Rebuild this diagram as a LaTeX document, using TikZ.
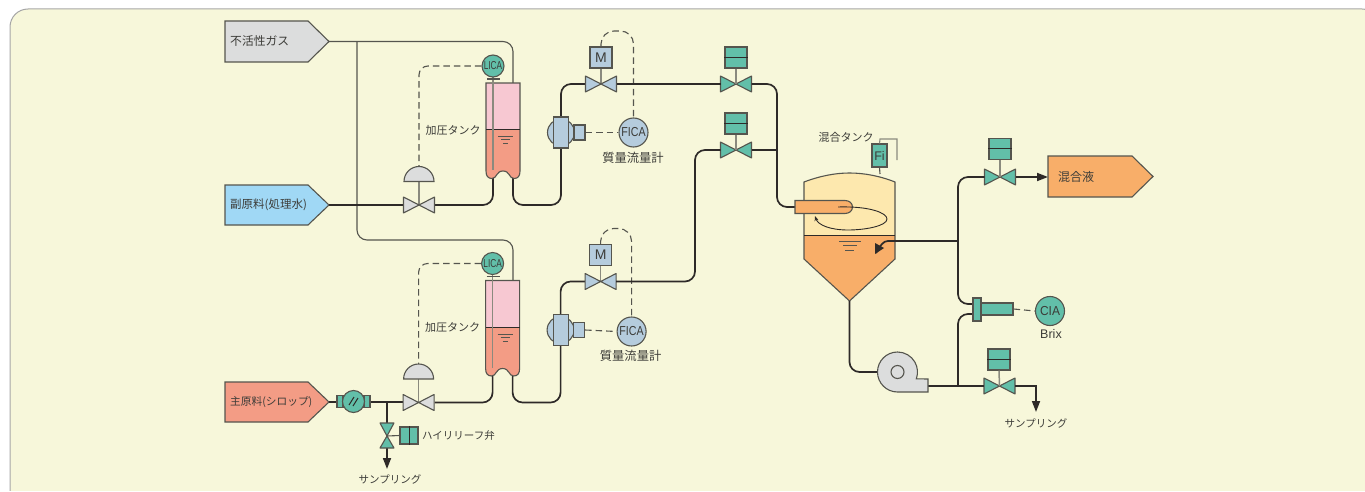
\documentclass[tikz,border=0pt]{standalone}
\usepackage{fontspec}
\usepackage{graphicx}
\setmainfont{Liberation Sans}
\newfontfamily\jp{Noto Sans CJK JP}
\usetikzlibrary{arrows.meta,calc}
\definecolor{bgc}{HTML}{F7F7DA}
\definecolor{grn}{HTML}{62BFA9}
\definecolor{blu}{HTML}{B5CCDD}
\definecolor{gry}{HTML}{DCDDDD}
\definecolor{pnk}{HTML}{F7C8D2}
\definecolor{red}{HTML}{F39C85}
\definecolor{sky}{HTML}{A0D8F5}
\definecolor{org}{HTML}{F8AE69}
\definecolor{yel}{HTML}{FDE8AE}
\definecolor{ink}{HTML}{55554E}
\definecolor{txt}{HTML}{3C3C38}
\definecolor{dk}{HTML}{2E2A28}
\definecolor{stm}{HTML}{8A8A7E}
\tikzset{
  x=1pt,y=-1pt,
  pipe/.style={draw=dk,line width=1.7pt},
  gas/.style={draw=ink,line width=1.1pt},
  sig/.style={draw=ink,line width=1.1pt,dash pattern=on 6.5pt off 4pt},
  eq/.style={draw=ink,line width=1.1pt},
  stem/.style={draw=stm,line width=1.5pt},
  tipa/.style={-{Triangle[length=11pt,width=8pt]}},
  lab/.style={font=\jp\fontsize{11}{12}\selectfont,text=txt,inner sep=0pt},
  inst/.style={circle,eq,minimum size=#1,inner sep=0pt,font=\fontsize{13}{14}\selectfont,text=txt},
  squarebox/.style={eq,inner sep=0pt},
}
\newcommand{\valve}[4]{% name x y color
  \coordinate (#1) at (#2,#3);
  \coordinate (#1-L) at ($(#1)+(-15.5,0)$);
  \coordinate (#1-R) at ($(#1)+(15.5,0)$);
  \draw[eq,fill=#4,line join=round] (#1) -- ++(-15.5,-8) -- ++(0,16) -- cycle;
  \draw[eq,fill=#4,line join=round] (#1) -- ++(15.5,-8) -- ++(0,16) -- cycle;
}
\newcommand{\actbox}[3]{% name x ytop : green two part actuator
  \node[squarebox,fill=grn,minimum width=22pt,minimum height=21pt] (#1) at (#2,#3+10.5) {};
  \draw[draw=dk,line width=1pt] (#1.west) -- (#1.east);
}
\newcommand{\pent}[7]{% name ytop ybot color text xleft fontsize
  \draw[eq,fill=#4] (#6,#2) -- ({#6+83},#2) -- ({#6+104},{(#2+#3)/2}) -- ({#6+83},#3) -- (#6,#3) -- cycle;
  \coordinate (#1) at ({#6+104},{(#2+#3)/2});
  \coordinate (#1-L) at (#6,{(#2+#3)/2});
  \node[lab,anchor=west,font=\jp\fontsize{#7}{13}\selectfont] (#1-t) at ({#6+5},{(#2+#3)/2}) {#5};
}
\newcommand{\train}[5]{% suffix yoffset xoffset fica-shift label-x
\begin{scope}[shift={(#3,#2)}]
  \coordinate (ti#1) at (493,178);
  \coordinate (to#1) at (513,178);
  \coordinate (tt#1) at (513,83);
  \coordinate (bend#1) at (561,205);
  % pipes
  \coordinate (av#1-R) at (435,205);
  \coordinate (mv#1-L) at (586,84);
  \draw[pipe,rounded corners=10] (av#1-R) -| (ti#1);
  \draw[pipe,rounded corners=10] (to#1) |- (bend#1) |- (mv#1-L);
  % tank
  \fill[pnk] (486,83) rectangle (520,130);
  \fill[red] (486,130) -- (520,130) -- (520,171) .. controls (520,176) and (518,178.5) .. (514,178.5) .. controls (509,178.5) and (510,171) .. (503,171) .. controls (496,171) and (497,178.5) .. (492,178.5) .. controls (488,178.5) and (486,176) .. (486,171) -- cycle;
  \draw[eq] (486,83) -- (520,83) -- (520,171) .. controls (520,176) and (518,178.5) .. (514,178.5) .. controls (509,178.5) and (510,171) .. (503,171) .. controls (496,171) and (497,178.5) .. (492,178.5) .. controls (488,178.5) and (486,176) .. (486,171) -- cycle;
  \draw[draw=dk,line width=1pt] (486,130) -- (520,130);
  \draw[draw=ink,line width=1pt] (498,136.5) -- (513,136.5) (501,140) -- (510,140) (503,143.5) -- (508,143.5);
  \draw[stem,line width=1.2pt] (493,66) -- (493,170);
  \draw[eq] (487,79) -- (500,79);
  % level control
  \node[inst=22pt,fill=grn] (lica#1) at (493,66) {\scalebox{.72}[1]{\fontsize{11.5}{12}\selectfont LICA}};
  \coordinate (lc#1) at (419,66);
  \coordinate (dome#1) at (419,168);
  \draw[sig,rounded corners=9] (lica#1.west) -- (lc#1) -- (dome#1);
  \node[lab] (lt#1) at (453,130) {加圧タンク};
  % air valve
  \draw[stem] (419,181) -- (419,205);
  \draw[eq,fill=gry] (404,181.5) arc[start angle=180,end angle=360,radius=15] -- cycle;
  \valve{av#1}{419}{205}{gry}
  % flow meter
  \coordinate (mt#1) at (561,132.5);
  \node[circle,eq,fill=blu,minimum size=27pt,inner sep=0pt] (mc#1) at (mt#1) {};
  \node[squarebox,fill=blu,minimum width=15pt,minimum height=31pt] (mr#1) at (561,132.5) {};
  \node[squarebox,fill=blu,minimum width=11pt,minimum height=15pt] (ms#1) at (579.5,132.5) {};
  \node[inst=29pt,fill=blu] (fica#1) at ([shift={(#4)}]633.5,132.5) {\scalebox{.82}[1]{FICA}};
  \draw[sig] (ms#1.east) -- (fica#1.west);
  \node[lab,font=\jp\fontsize{12.3}{13}\selectfont] (ft#1) at (#5,158) {質量流量計};
  % motor valve
  \node[squarebox,fill=blu,minimum width=22pt,minimum height=21pt,font=\fontsize{14}{15}\selectfont,text=txt] (mot#1) at (601,57.5) {M};
  \draw[stem] (mot#1.south) -- (601,84);
  \valve{mv#1}{601}{84}{blu}
  \coordinate (sa#1) at (601,31);
  \coordinate (sb#1) at (fica#1.north |- sa#1);
  \draw[sig,rounded corners=13] (mot#1.north) -- (sa#1) -- (sb#1) -- (fica#1.north);
\end{scope}
}
\begin{document}
\begin{tikzpicture}
\useasboundingbox (0,0) rectangle (1365,492);
\begin{scope}
  \clip (0,0) rectangle (1365,490.5);
  \draw[fill=bgc,draw=black!35,line width=1pt,rounded corners=18] (10,9) rectangle (1380,520);
\end{scope}

% source tags
\pent{gasT}{21}{62}{gry}{不活性ガス}{225}{11.8}
\pent{subT}{185}{225}{sky}{副原料(処理水)}{225}{11.5}
\pent{mainT}{382}{422}{red}{主原料(シロップ)}{225}{10.7}

\coordinate (tt1x) at (513,83);
\coordinate (tt2x) at (513,280);
\coordinate (gb) at (357,41.5);
\coordinate (gc) at (513,240);
\draw[gas,rounded corners=10] (gasT) -| (tt1x);
\draw[gas,rounded corners=10] (gb) |- (gc) -- (tt2x);

% sub feed and main feed
\coordinate (avA) at (405,205);
\draw[pipe] (subT) -- (avA);
\coordinate (avB) at (405,402);
\draw[pipe] (mainT) -- (avB);

\train{1}{0}{0}{0,0}{633}
\train{2}{197.5}{-0.4}{-1.5,1.5}{631}

% cross connections
\valve{gv1}{736}{84}{grn}
\actbox{ga1}{736}{47}
\draw[stem] (ga1.south) -- (gv1);
\valve{gv2}{736}{150}{grn}
\actbox{ga2}{736}{113}
\draw[stem] (ga2.south) -- (gv2);

\coordinate (sparge) at (796,207);
\coordinate (hd) at (777,84);
\coordinate (hd2) at (777,207);
\coordinate (tee) at (777,150);
\coordinate (dn) at (695,150);
\coordinate (dn2) at (695,281.5);
\draw[pipe] (mv1-R) -- (gv1-L);
\draw[pipe,rounded corners=10] (gv1-R) -- (hd) -- (hd2) -- (sparge);
\draw[pipe] (gv2-R) -- (tee);
\draw[pipe,rounded corners=10] (gv2-L) -- (dn) -- (dn2) -- (mv2-R);

% mixing tank
\fill[yel] (804,235) -- (804,182) .. controls (820,176) and (835,173) .. (849.5,173) .. controls (864,173) and (880,176) .. (895,182) -- (895,235) -- cycle;
\fill[org] (804,235) -- (895,235) -- (895,259) -- (849.5,301) -- (804,259) -- cycle;
\draw[eq] (804,182) .. controls (820,176) and (835,173) .. (849.5,173) .. controls (864,173) and (880,176) .. (895,182) -- (895,259) -- (849.5,301) -- (804,259) -- cycle;
\draw[draw=dk,line width=1pt] (804,235) -- (895,235);
\draw[draw=ink,line width=1pt] (839,241.7) -- (861,241.7) (843,245.7) -- (857,245.7) (845,250) -- (854,250);
\coordinate (tip) at (849.5,301);
\draw[eq,fill=org] (795,200.5) -- (845,200.5) .. controls (849,200.5) and (852.5,203) .. (852.5,207) .. controls (852.5,211) and (849,213.5) .. (845,213.5) -- (795,213.5) -- cycle;
\draw[draw=dk,line width=.9pt,-{Stealth[length=5pt,width=4pt]}] (838,207) .. controls (870,206) and (887,213) .. (887,219) .. controls (887,226) and (865,230) .. (848,230) .. controls (830,230) and (818,225) .. (815,216);
\node[lab] (mixt) at (846,137) {混合タンク};
\node[squarebox,fill=grn,minimum width=15pt,minimum height=23pt,font=\fontsize{12.5}{13}\selectfont,text=txt] (fi) at (879.5,155.5) {Fi};
\coordinate (fia) at (880,174);
\coordinate (fib) at (880,139);
\coordinate (fic) at (897,139);
\coordinate (fid) at (897,160);
\draw[eq] (fi.south) -- (fia);
\draw[stem,line width=1.1pt] (fi.north) -- (fib) -- (fic) -- (fid);

% product side
\coordinate (c1) at (958,177);
\coordinate (ret) at (958,241);
\coordinate (c2) at (958,304);
\coordinate (c3) at (958,314);
\coordinate (c4) at (958,386);
\coordinate (fl1) at (973,304);
\coordinate (fl2) at (973,314);
\coordinate (rtb) at (875,254);
\valve{pv1}{1000}{177}{grn}
\actbox{pa1}{1000}{138.5}
\draw[stem] (pa1.south) -- (pv1);
\draw[pipe,rounded corners=10] (pv1-L) -- (c1) -- (c2) -- (fl1);
\draw[pipe] (ret) -- (888,241) .. controls (883,241) and (881,245) .. (876,253);
\fill[dk] (rtb) -- (875,243) -- (884,248) -- cycle;
\coordinate (outT) at (1048,177);
\draw[pipe,tipa] (pv1-R) -- (outT);
\draw[eq,fill=org] (1048,156) -- (1132,156) -- (1153,176.5) -- (1132,197) -- (1048,197) -- cycle;
\node[lab,anchor=west,font=\jp\fontsize{12}{13}\selectfont] (outt) at (1058,177) {混合液};

% Brix
\draw[pipe,rounded corners=10] (fl2) -- (c3) -- (c4);
\node[squarebox,fill=grn,minimum width=32pt,minimum height=12pt] (br) at (997,309) {};
\node[squarebox,fill=grn,minimum width=8pt,minimum height=23pt] (brf) at (977,309.5) {};
\node[inst=29pt,fill=grn] (cia) at (1050,311) {\scalebox{.92}[1]{CIA}};
\draw[sig,draw=ink] (br.east) -- (cia.west);
\node[lab,font=\fontsize{12.5}{13}\selectfont] (brix) at (1051,334) {Brix};

% pump
\coordinate (pmL) at (877.5,372);
\coordinate (pc) at (849.5,372);
\draw[pipe,rounded corners=10] (tip) -- (pc) -- (pmL);
\coordinate (pmR) at (928,386);
\coordinate (pc2) at (1036,386);
\coordinate (sp2) at (1036,412);
\valve{pv2}{999.5}{386}{grn}
\draw[pipe] (pmR) -- (pv2-L);
\draw[eq,fill=gry] (928,392) -- (897.5,392) arc[start angle=90,end angle=380,radius=20] -- (928,379) -- cycle;
\node[circle,eq,fill=gry,minimum size=13pt,inner sep=0pt] (imp) at (897.5,372) {};
\actbox{pa2}{999}{349}
\draw[stem] (pa2.south) -- (pv2);
\draw[pipe,tipa] (pv2-R) -- (pc2) -- (sp2);
\node[lab,font=\jp\fontsize{10.5}{12}\selectfont] (samp2) at (1036,423) {サンプリング};

% main feed meter and relief
\node[squarebox,fill=grn,minimum width=6pt,minimum height=12pt] (fa) at (340,401.5) {};
\node[squarebox,fill=grn,minimum width=6pt,minimum height=12pt] (fb) at (367,401.5) {};
\node[circle,eq,fill=grn,minimum size=22pt,inner sep=0pt] (fm) at (353.5,401.5) {};
\draw[draw=dk,line width=1pt] (349,405) -- (354,397) (353,406) -- (358,398);
\coordinate (ra) at (387,402);
\coordinate (rb) at (387,436);
\coordinate (rc) at (387,448);
\coordinate (rd) at (387,469);
\draw[pipe] (ra) -- (rb);
\draw[pipe,tipa] (rc) -- (rd);
\draw[eq,fill=grn,line join=round] (rb) -- (380,423) -- (394,423) -- cycle;
\draw[eq,fill=grn,line join=round] (rb) -- (380,448) -- (394,448) -- cycle;
\node[squarebox,fill=grn,minimum width=18pt,minimum height=17pt] (rbox) at (409,435.5) {};
\draw[draw=dk,line width=1pt] (rbox.north) -- (rbox.south);
\draw[eq] (rb) -- (rbox.west);
\node[lab,font=\jp\fontsize{10.5}{12}\selectfont] (relief) at (458.5,435) {ハイリリーフ弁};
\node[lab,font=\jp\fontsize{10.5}{12}\selectfont] (samp1) at (390,479) {サンプリング};
\end{tikzpicture}
\end{document}
